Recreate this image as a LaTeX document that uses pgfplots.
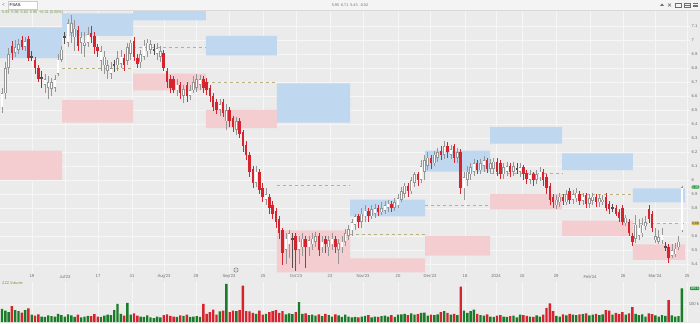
\documentclass[border=0pt]{standalone}
\usepackage{pgfplots}
\pgfplotsset{compat=1.18}
\usepackage{pgfplotstable}
\usepackage{fontspec}
\setmainfont{Liberation Sans}

\definecolor{bg}{RGB}{235,235,235}
\definecolor{topbar}{RGB}{244,244,244}
\definecolor{gridc}{RGB}{246,246,246}
\definecolor{zblue}{RGB}{192,215,240}
\definecolor{zpink}{RGB}{244,205,209}
\definecolor{dashc}{RGB}{185,178,130}
\definecolor{cred}{RGB}{214,36,46}
\definecolor{cgrey}{RGB}{150,150,150}
\definecolor{cdark}{RGB}{80,80,80}
\definecolor{vgreen}{RGB}{26,124,38}
\definecolor{lblc}{RGB}{110,110,110}
\definecolor{tagg}{RGB}{40,150,60}
\definecolor{tagy}{RGB}{200,180,90}
\definecolor{legc}{RGB}{110,150,60}

\newcommand\tinyf{\fontsize{4.2}{5}\selectfont}
\newcommand\tagf{\fontsize{3.4}{4}\selectfont}
\newcommand\zone[5]{\addplot[fill=#5, draw=none, forget plot] coordinates {(#1,#3) (#2,#3) (#2,#4) (#1,#4) (#1,#3)};}
\newcommand\level[3]{\addplot[dashc, dashed, line width=0.5bp, forget plot] coordinates {(#1,#3) (#2,#3)};}

\pgfplotstableread{
i o h l c v
0 6.52 6.66 6.48 6.62 72
1 6.62 6.84 6.58 6.80 62
2 6.80 6.94 6.76 6.90 55
3 6.96 6.99 6.86 6.91 88
4 6.91 7.00 6.88 6.95 66
5 6.93 7.01 6.90 6.97 60
6 7.00 7.03 6.93 6.95 52
7 6.95 7.02 6.92 6.99 65
8 7.01 7.03 6.85 6.87 75
9 6.88 6.92 6.85 6.88 40
10 6.86 6.88 6.76 6.80 35
11 6.80 6.82 6.70 6.72 42
12 6.73 6.78 6.66 6.73 30
13 6.68 6.76 6.62 6.72 28
14 6.66 6.74 6.58 6.70 36
15 6.65 6.73 6.60 6.70 32
16 6.66 6.75 6.63 6.72 30
17 6.76 6.90 6.74 6.86 45
18 6.86 6.96 6.84 6.93 38
19 7.02 7.06 6.97 7.02 30
20 6.98 7.15 6.95 7.12 42
21 7.05 7.18 6.98 7.12 36
22 7.02 7.14 6.92 7.08 28
23 7.07 7.10 6.92 6.96 40
24 6.98 7.06 6.90 7.02 26
25 6.96 7.06 6.88 6.98 30
26 6.98 7.09 6.95 7.04 34
27 7.05 7.10 6.98 7.02 32
28 7.03 7.06 6.90 6.95 44
29 6.95 6.97 6.88 6.92 30
30 6.85 6.96 6.78 6.92 28
31 6.82 6.92 6.76 6.88 35
32 6.78 6.86 6.72 6.82 40
33 6.76 6.84 6.72 6.80 38
34 6.82 6.86 6.77 6.82 66
35 6.82 6.92 6.78 6.87 100
36 6.83 6.93 6.80 6.88 45
37 6.87 6.90 6.78 6.82 35
38 6.85 6.98 6.82 6.95 105
39 6.90 7.00 6.86 6.98 40
40 6.99 7.02 6.85 6.88 48
41 6.87 6.90 6.80 6.83 35
42 6.84 6.93 6.80 6.90 30
43 6.88 7.00 6.86 6.96 28
44 6.92 7.01 6.88 6.98 36
45 6.93 7.00 6.90 6.97 25
46 6.93 6.97 6.89 6.93 22
47 6.90 6.98 6.86 6.94 30
48 6.88 6.96 6.84 6.92 26
49 6.91 6.93 6.78 6.80 38
50 6.78 6.80 6.66 6.70 42
51 6.72 6.75 6.62 6.66 34
52 6.72 6.74 6.62 6.64 30
53 6.64 6.72 6.60 6.68 28
54 6.68 6.70 6.58 6.62 36
55 6.60 6.68 6.55 6.65 34
56 6.68 6.70 6.56 6.60 40
57 6.60 6.68 6.57 6.64 28
58 6.64 6.74 6.62 6.70 30
59 6.66 6.76 6.63 6.72 32
60 6.68 6.75 6.64 6.72 28
61 6.72 6.74 6.62 6.66 100
62 6.70 6.73 6.61 6.64 45
63 6.66 6.68 6.56 6.60 55
64 6.60 6.62 6.49 6.52 68
65 6.56 6.58 6.47 6.50 40
66 6.50 6.58 6.46 6.54 58
67 6.56 6.58 6.45 6.48 62
68 6.42 6.54 6.36 6.50 210
69 6.50 6.52 6.38 6.42 55
70 6.44 6.46 6.34 6.38 62
71 6.36 6.45 6.32 6.42 60
72 6.42 6.44 6.30 6.33 66
73 6.34 6.36 6.20 6.24 200
74 6.25 6.28 6.14 6.18 60
75 6.18 6.20 6.02 6.06 58
76 6.08 6.10 5.94 5.98 50
77 5.98 6.10 5.95 6.06 45
78 6.06 6.08 5.90 5.93 62
79 5.94 5.98 5.84 5.88 40
80 5.86 5.94 5.82 5.90 45
81 5.88 5.90 5.76 5.80 55
82 5.82 5.85 5.72 5.76 60
83 5.78 5.80 5.66 5.70 66
84 5.72 5.74 5.58 5.62 50
85 5.64 5.66 5.39 5.48 60
86 5.50 5.62 5.40 5.58 42
87 5.54 5.64 5.44 5.62 48
88 5.58 5.62 5.37 5.58 44
89 5.60 5.62 5.35 5.50 55
90 5.50 5.60 5.40 5.56 110
91 5.52 5.62 5.46 5.58 45
92 5.58 5.60 5.37 5.52 48
93 5.52 5.60 5.46 5.57 38
94 5.54 5.62 5.50 5.58 40
95 5.56 5.63 5.52 5.60 35
96 5.60 5.62 5.46 5.50 42
97 5.52 5.60 5.48 5.56 32
98 5.58 5.60 5.48 5.54 45
99 5.52 5.60 5.46 5.57 38
100 5.54 5.62 5.50 5.58 30
101 5.58 5.60 5.48 5.52 42
102 5.50 5.58 5.40 5.55 36
103 5.52 5.60 5.48 5.56 28
104 5.56 5.65 5.53 5.62 40
105 5.60 5.68 5.57 5.65 30
106 5.64 5.72 5.60 5.70 25
107 5.68 5.76 5.64 5.74 28
108 5.74 5.76 5.66 5.70 26
109 5.70 5.80 5.66 5.76 30
110 5.74 5.82 5.70 5.78 34
111 5.78 5.80 5.70 5.74 38
112 5.74 5.82 5.72 5.79 26
113 5.76 5.83 5.73 5.80 30
114 5.80 5.82 5.74 5.77 28
115 5.77 5.84 5.75 5.80 32
116 5.78 5.85 5.76 5.82 35
117 5.80 5.86 5.77 5.83 30
118 5.83 5.85 5.77 5.80 38
119 5.80 5.87 5.78 5.84 28
120 5.82 5.90 5.80 5.87 40
121 5.86 5.95 5.84 5.92 42
122 5.90 5.98 5.87 5.96 45
123 5.96 5.98 5.88 5.92 38
124 5.92 6.02 5.90 6.00 48
125 5.98 6.06 5.95 6.04 40
126 6.04 6.06 5.96 6.00 44
127 6.00 6.14 5.98 6.10 50
128 6.06 6.18 6.00 6.14 52
129 6.10 6.20 6.07 6.16 35
130 6.16 6.18 6.08 6.12 40
131 6.12 6.21 6.10 6.18 38
132 6.16 6.23 6.13 6.20 42
133 6.21 6.24 6.14 6.18 55
134 6.18 6.28 6.15 6.24 60
135 6.24 6.27 6.16 6.20 50
136 6.18 6.25 6.15 6.22 40
137 6.24 6.26 6.12 6.16 45
138 6.16 6.23 6.12 6.20 38
139 6.20 6.22 5.90 5.94 195
140 5.94 6.06 5.86 6.02 62
141 6.00 6.10 5.96 6.06 50
142 6.04 6.12 6.00 6.09 60
143 6.06 6.15 6.03 6.12 68
144 6.12 6.14 6.04 6.07 45
145 6.07 6.15 6.04 6.12 38
146 6.10 6.17 6.06 6.14 35
147 6.14 6.16 6.05 6.08 42
148 6.08 6.15 6.05 6.12 30
149 6.08 6.16 6.04 6.13 28
150 6.13 6.16 6.03 6.06 35
151 6.12 6.14 6.01 6.04 38
152 6.04 6.12 6.01 6.09 30
153 6.06 6.13 6.03 6.10 28
154 6.10 6.12 6.02 6.06 32
155 6.06 6.13 6.03 6.10 35
156 6.08 6.12 6.04 6.08 26
157 6.06 6.12 6.02 6.09 40
158 6.09 6.11 6.00 6.04 38
159 6.05 6.07 5.97 6.01 34
160 6.00 6.07 5.97 6.04 30
161 6.04 6.06 5.96 6.00 28
162 6.00 6.07 5.97 6.04 36
163 6.02 6.09 5.99 6.06 30
164 6.06 6.08 5.96 6.00 40
165 6.02 6.04 5.90 5.94 78
166 5.96 5.98 5.82 5.86 103
167 5.88 5.90 5.80 5.84 60
168 5.82 5.89 5.79 5.86 34
169 5.84 5.91 5.81 5.88 30
170 5.88 5.90 5.82 5.85 42
171 5.84 5.93 5.82 5.90 36
172 5.92 5.94 5.83 5.86 45
173 5.86 5.93 5.83 5.90 40
174 5.87 5.94 5.84 5.91 38
175 5.90 5.92 5.82 5.85 42
176 5.85 5.91 5.82 5.88 44
177 5.89 5.91 5.80 5.83 48
178 5.83 5.90 5.80 5.87 36
179 5.85 5.91 5.82 5.88 40
180 5.88 5.90 5.81 5.84 45
181 5.84 5.90 5.81 5.87 38
182 5.84 5.89 5.82 5.86 42
183 5.88 5.91 5.78 5.80 66
184 5.83 5.85 5.76 5.79 62
185 5.80 5.83 5.77 5.80 40
186 5.80 5.82 5.74 5.76 50
187 5.77 5.79 5.70 5.73 45
188 5.80 5.82 5.68 5.70 55
189 5.69 5.75 5.67 5.73 40
190 5.70 5.72 5.60 5.62 48
191 5.60 5.62 5.53 5.56 82
192 5.58 5.75 5.55 5.68 45
193 5.60 5.72 5.57 5.66 38
194 5.62 5.73 5.59 5.68 42
195 5.67 5.74 5.64 5.70 30
196 5.79 5.82 5.69 5.72 48
197 5.76 5.78 5.63 5.66 44
198 5.57 5.66 5.55 5.60 36
199 5.56 5.64 5.54 5.59 30
200 5.57 5.66 5.54 5.61 38
201 5.52 5.56 5.49 5.52 34
202 5.52 5.54 5.41 5.44 120
203 5.46 5.54 5.44 5.50 36
204 5.47 5.55 5.45 5.51 30
205 5.52 5.60 5.50 5.56 32
206 5.64 5.96 5.63 5.95 185
}\candles

\begin{document}
\begin{tikzpicture}[x=1bp,y=1bp]
\path[use as bounding box, fill=bg] (0,0) rectangle (700,323);

% price panel
\begin{axis}[
  at={(0bp,313bp)}, anchor=north west, scale only axis,
  width=690bp, height=263bp,
  xmin=-0.606, xmax=208.48, ymin=5.3357, ymax=7.2143,
  axis line style={draw=none}, major tick length=0pt,
  xtick={9.09,19.09,29.09,39.4,49.1,58.8,68.8,79.1,89.1,99.4,109.4,120,129.7,140.3,149.7,157.6,167.9,178.2,188.2,197.9,207.6},
  xticklabels={19,Jul'23,17,31,Aug'23,28,Sep'23,25,Oct'23,23,Nov'23,20,Dec'23,18,2024,15,29,Feb'24,26,Mar'24,25},
  ytick={5.4,5.5,5.6,5.7,5.8,5.9,6.0,6.1,6.2,6.3,6.4,6.5,6.6,6.7,6.8,6.9,7.0,7.1},
  yticklabels={5.4,5.5,5.6,,5.8,5.9,6,6.1,6.2,6.3,6.4,6.5,6.6,6.7,6.8,6.9,7,7.1},
  yticklabel pos=right,
  grid=major, major grid style={draw=gridc, line width=0.6bp},
  tick label style={font=\tinyf, text=lblc},
  xticklabel style={inner sep=0pt, yshift=-1.8bp},
  yticklabel style={anchor=west, inner sep=0pt, xshift=1.5bp},
  clip mode=individual,
]
% monthly zones
\zone{-0.606}{18.2}{6.87}{7.09}{zblue}
\zone{-0.606}{18.2}{6.00}{6.21}{zpink}
\zone{18.2}{39.7}{7.03}{7.19}{zblue}
\zone{18.2}{39.7}{6.41}{6.57}{zpink}
\zone{39.7}{61.8}{7.14}{7.2143}{zblue}
\zone{39.7}{61.8}{6.64}{6.76}{zpink}
\zone{61.8}{83.3}{6.89}{7.03}{zblue}
\zone{61.8}{83.3}{6.37}{6.50}{zpink}
\zone{83.3}{105.5}{6.41}{6.69}{zblue}
\zone{83.3}{105.5}{5.34}{5.64}{zpink}
\zone{105.5}{128.2}{5.74}{5.86}{zblue}
\zone{105.5}{128.2}{5.34}{5.44}{zpink}
\zone{128.2}{147.9}{6.06}{6.21}{zblue}
\zone{128.2}{147.9}{5.46}{5.60}{zpink}
\zone{147.9}{169.7}{6.26}{6.38}{zblue}
\zone{147.9}{169.7}{5.79}{5.90}{zpink}
\zone{169.7}{191.2}{6.07}{6.19}{zblue}
\zone{169.7}{191.2}{5.60}{5.71}{zpink}
\zone{191.2}{207.0}{5.84}{5.94}{zblue}
\zone{191.2}{207.0}{5.43}{5.54}{zpink}
% pivot levels
\level{18.2}{39.7}{6.80}
\level{39.7}{61.8}{6.95}
\level{61.8}{83.3}{6.70}
\level{83.3}{105.5}{5.96}
\level{105.5}{128.2}{5.61}
\level{128.2}{147.9}{5.82}
\level{147.9}{169.7}{6.05}
\level{169.7}{191.2}{5.90}
\level{191.2}{207.0}{5.69}

% wicks
\addplot[draw=none, mark=none, forget plot, error bars/.cd, y dir=both, y explicit, error mark=none,
  error bar style={draw=cgrey, line width=0.5bp}]
  table[x=i, y expr={(\thisrow{c}>\thisrow{o}) ? ((\thisrow{h}+\thisrow{l})/2) : nan}, y error expr={(\thisrow{h}-\thisrow{l})/2}] {\candles};
\addplot[draw=none, mark=none, forget plot, error bars/.cd, y dir=both, y explicit, error mark=none,
  error bar style={draw=cred, line width=0.5bp}]
  table[x=i, y expr={(\thisrow{c}<\thisrow{o}) ? ((\thisrow{h}+\thisrow{l})/2) : nan}, y error expr={(\thisrow{h}-\thisrow{l})/2}] {\candles};
\addplot[draw=none, mark=none, forget plot, error bars/.cd, y dir=both, y explicit, error mark=none,
  error bar style={draw=cdark, line width=0.5bp}]
  table[x=i, y expr={(\thisrow{c}==\thisrow{o}) ? ((\thisrow{h}+\thisrow{l})/2) : nan}, y error expr={(\thisrow{h}-\thisrow{l})/2}] {\candles};
% bodies
\addplot[draw=none, mark=none, forget plot, error bars/.cd, y dir=both, y explicit, error mark=none,
  error bar style={draw=cgrey, line width=2.5bp}]
  table[x=i, y expr={(\thisrow{c}>\thisrow{o}) ? ((\thisrow{o}+\thisrow{c})/2) : nan}, y error expr={(\thisrow{c}-\thisrow{o})/2}] {\candles};
\addplot[draw=none, mark=none, forget plot, error bars/.cd, y dir=both, y explicit, error mark=none,
  error bar style={draw=white, line width=1.4bp}]
  table[x=i, y expr={(\thisrow{c}>\thisrow{o}) ? ((\thisrow{o}+\thisrow{c})/2) : nan}, y error expr={max((\thisrow{c}-\thisrow{o})/2-0.004,0)}] {\candles};
\addplot[draw=none, mark=none, forget plot, error bars/.cd, y dir=both, y explicit, error mark=none,
  error bar style={draw=cred, line width=2.5bp}]
  table[x=i, y expr={(\thisrow{c}<\thisrow{o}) ? ((\thisrow{o}+\thisrow{c})/2) : nan}, y error expr={(\thisrow{o}-\thisrow{c})/2}] {\candles};
\addplot[draw=none, mark=none, forget plot, error bars/.cd, y dir=both, y explicit, error mark=none,
  error bar style={draw=cdark, line width=2.5bp}]
  table[x=i, y expr={(\thisrow{c}==\thisrow{o}) ? (\thisrow{c}) : nan}, y error expr={0.006}] {\candles};

% right-hand price tags
\node[anchor=east, fill=tagg, text=white, font=\tagf, inner sep=0.5bp, rounded corners=0.8bp, xshift=9.5bp] at (axis cs:208.48,5.95) {5.95};
\node[anchor=east, fill=tagy, text=black!70, font=\tagf, inner sep=0.5bp, rounded corners=0.8bp, xshift=9.5bp] at (axis cs:208.48,5.69) {5.69};
\end{axis}

% volume panel
\begin{axis}[
  at={(0bp,1bp)}, anchor=south west, scale only axis,
  width=690bp, height=40bp,
  xmin=-0.606, xmax=208.48, ymin=0, ymax=220,
  axis line style={draw=none}, major tick length=0pt,
  xtick={9.09,19.09,29.09,39.4,49.1,58.8,68.8,79.1,89.1,99.4,109.4,120,129.7,140.3,149.7,157.6,167.9,178.2,188.2,197.9,207.6},
  xticklabels={},
  ytick={100}, yticklabels={100 k},
  yticklabel pos=right,
  grid=major, major grid style={draw=gridc, line width=0.6bp},
  tick label style={font=\tinyf, text=lblc},
  yticklabel style={anchor=east, inner sep=0pt, xshift=9.2bp},
  clip mode=individual,
]
\addplot[ybar, bar width=2.4bp, bar shift=0pt, fill=vgreen, draw=none, forget plot]
  table[x=i, y expr={(\thisrow{c}>=\thisrow{o}) ? (\thisrow{v}) : nan}] {\candles};
\addplot[ybar, bar width=2.4bp, bar shift=0pt, fill=cred, draw=none, forget plot]
  table[x=i, y expr={(\thisrow{c}<\thisrow{o}) ? (\thisrow{v}) : nan}] {\candles};
\node[anchor=east, fill=tagg, text=white, font=\tagf, inner sep=0.5bp, rounded corners=0.8bp, xshift=9.5bp] at (axis cs:208.48,185) {185 k};
\end{axis}

% top bar (drawn last so it stays on top)
\fill[topbar] (0,313) rectangle (700,323);
\draw[black!15, line width=0.4bp] (0,313) -- (700,313);
\node[anchor=center, text=lblc, font=\fontsize{5}{6}\selectfont, inner sep=0pt] at (3.5,318) {<};
\draw[black!20, fill=white, line width=0.3bp] (8,314.3) rectangle (37,321.7);
\node[anchor=west, font=\tinyf, inner sep=0pt] at (9.5,318) {FSAS};
\node[anchor=center, font=\fontsize{3.8}{4.5}\selectfont, text=lblc, inner sep=0pt] at (350,318) {5.95\enspace 6.71\enspace 5.43\enspace -0.02};
\fill[lblc] (660,317) -- (664,317) -- (662,319.5) -- cycle;
\draw[lblc, line width=0.4bp] (668,316.5) -- (671,319.5) (668,319.5) -- (671,316.5);
\draw[lblc, line width=0.4bp] (675,316) rectangle (681,320);
\draw[lblc, line width=0.4bp] (684,316) rectangle (690,320) (684,318) -- (690,318);
\draw[lblc, line width=0.4bp] (693,316.5) -- (698,316.5) (693,318) -- (698,318) (693,319.5) -- (698,319.5);

% legends and icons
\node[anchor=west, text=legc, font=\fontsize{3.8}{4.5}\selectfont, inner sep=0pt] at (2,310) {5.93\enspace 5.96\enspace 5.63\enspace 5.95\enspace +0.31 (5.50\%)};
\node[anchor=west, text=legc, font=\fontsize{3.8}{4.5}\selectfont, inner sep=0pt] at (2,40) {ZZZ Volume};
\draw[lblc, line width=0.4bp] (236,53) circle (2.2bp) (234.8,53) -- (237.2,53);
\end{tikzpicture}
\end{document}
